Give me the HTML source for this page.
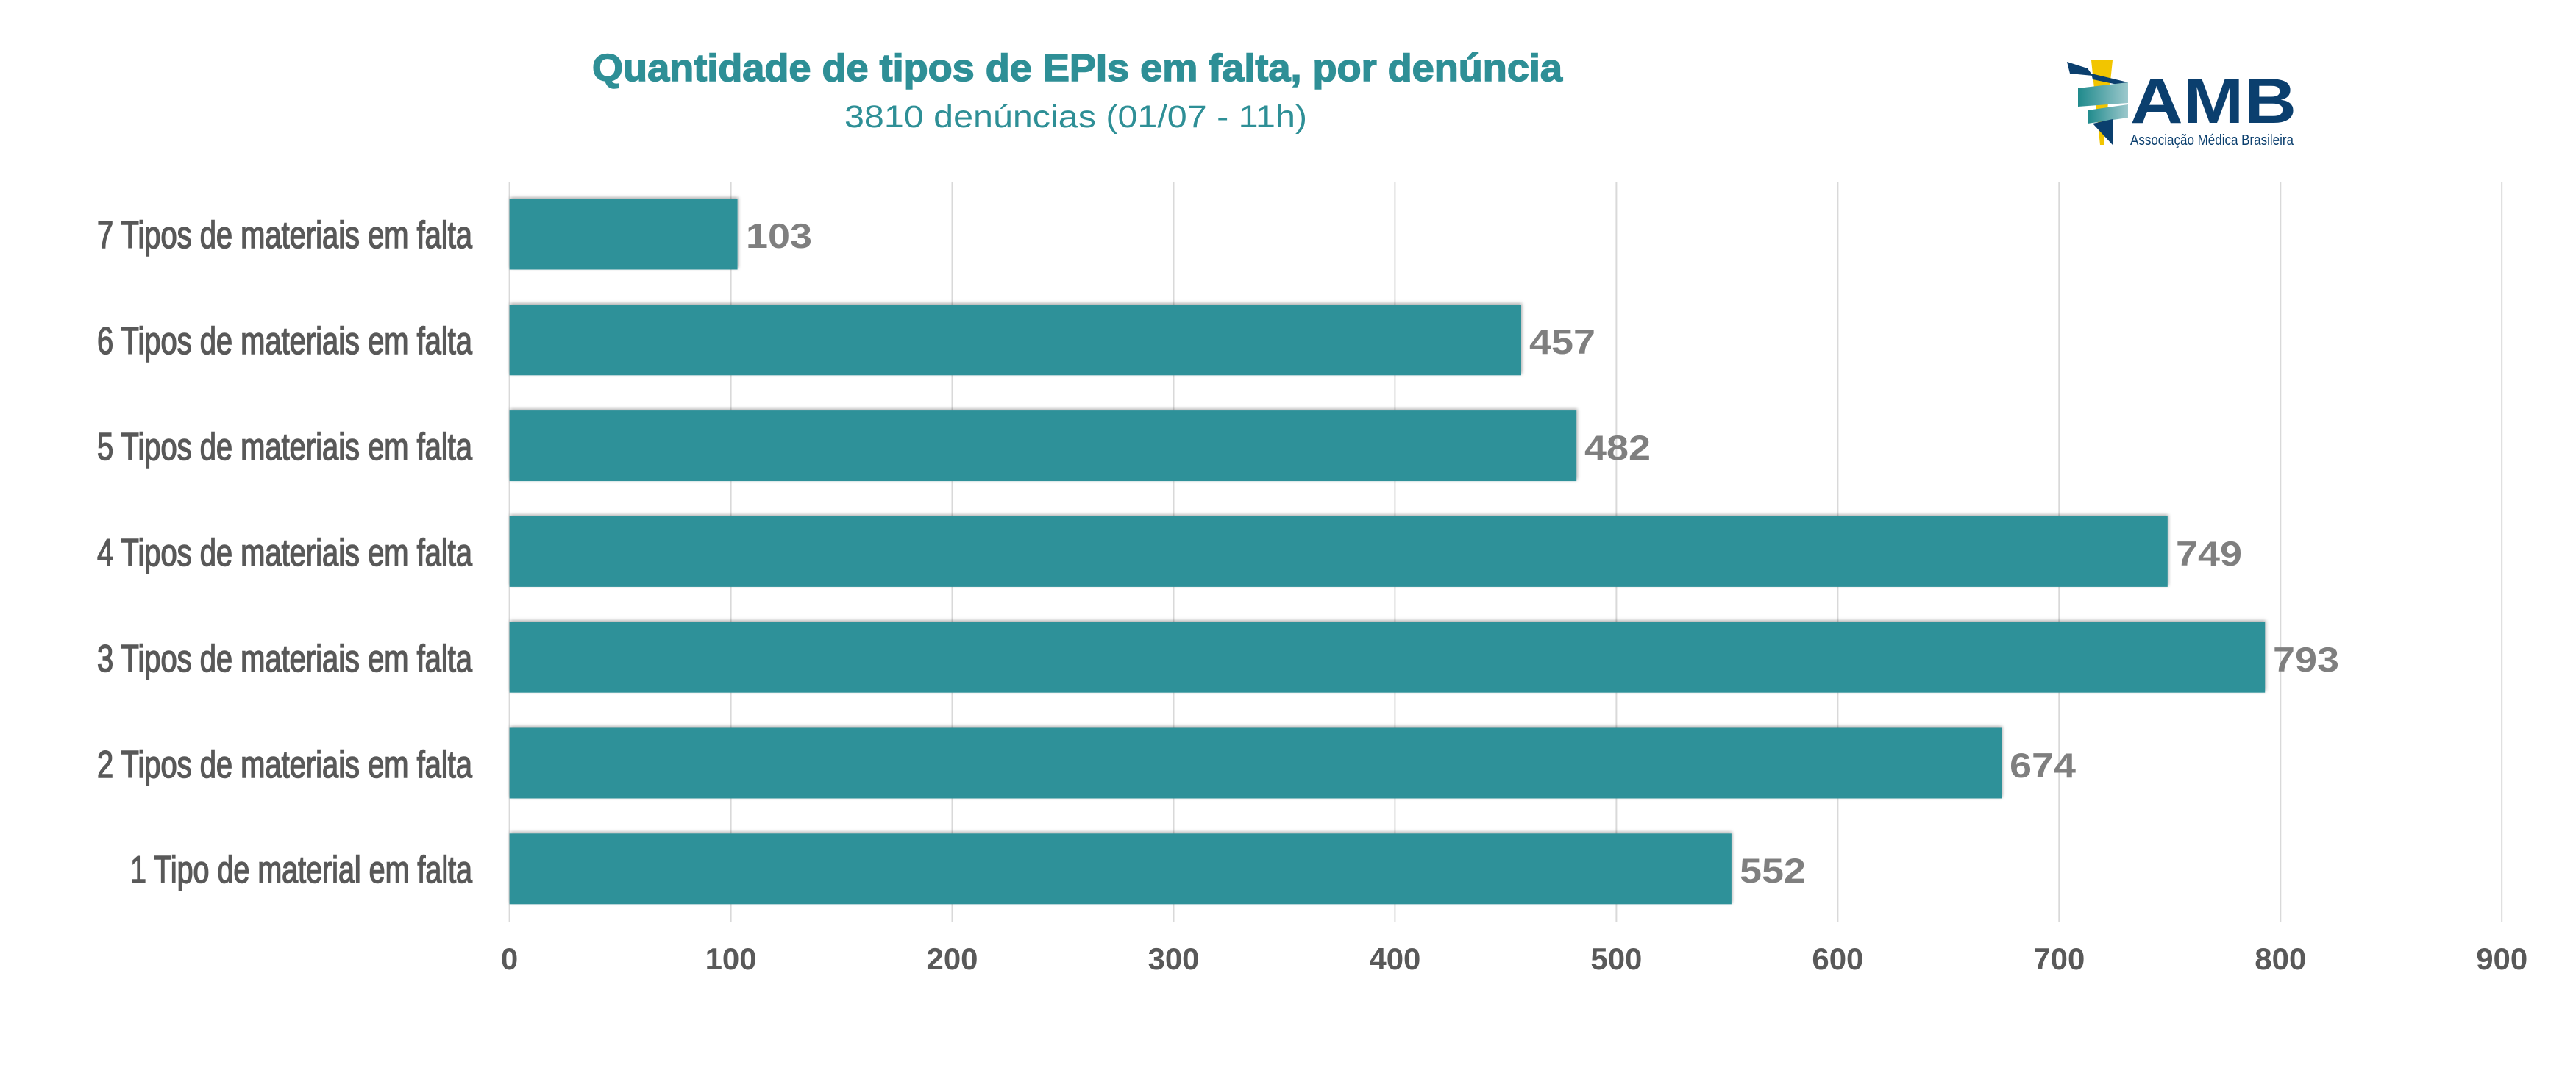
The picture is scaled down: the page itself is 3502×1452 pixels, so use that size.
<!DOCTYPE html>
<html><head><meta charset="utf-8"><style>
html,body{margin:0;padding:0;background:#fff;}
svg{display:block;}
</style></head><body>
<svg width="3502" height="1452" viewBox="0 0 3502 1452" xmlns="http://www.w3.org/2000/svg">
<defs>
<filter id="sh" x="-5%" y="-20%" width="110%" height="140%"><feDropShadow dx="1" dy="-2" stdDeviation="2.5" flood-color="#000" flood-opacity="0.35"/></filter>
<linearGradient id="rib" x1="0" x2="1"><stop offset="0" stop-color="#1f8a8c"/><stop offset="1" stop-color="#9cc8cc"/></linearGradient>
</defs>
<rect width="3502" height="1452" fill="#fff"/>
<text x="805" y="110" font-family="Liberation Sans, sans-serif" font-weight="bold" font-size="52" fill="#2e8f96" stroke="#2e8f96" stroke-width="1.5" textLength="1319" lengthAdjust="spacingAndGlyphs">Quantidade de tipos de EPIs em falta, por denúncia</text>
<text x="1148" y="173" font-family="Liberation Sans, sans-serif" font-size="43" fill="#2e8f96" textLength="629" lengthAdjust="spacingAndGlyphs">3810 denúncias (01/07 - 11h)</text>
<!-- logo -->
<g>
<polygon points="2843,82 2872,82 2860,197 2855,197" fill="#f2c500"/>
<polygon points="2810,84 2838,93 2845,103 2814,100" fill="#0b3f6e"/>
<polygon points="2843,100 2893,112 2893,118 2845,108" fill="#0b3f6e"/>
<polygon points="2825,120 2893,112 2893,140 2825,145" fill="url(#rib)"/>
<polygon points="2838,150 2893,142 2893,160 2838,168" fill="url(#rib)"/>
<polygon points="2845,168 2872,162 2872,197" fill="#0b3f6e"/>
<text x="2896" y="167" font-family="Liberation Sans, sans-serif" font-weight="bold" font-size="86" fill="#0b3f6e" textLength="226" lengthAdjust="spacingAndGlyphs">AMB</text>
<text x="2896" y="197" font-family="Liberation Sans, sans-serif" font-size="20" fill="#0b3f6e" textLength="222" lengthAdjust="spacingAndGlyphs">Associação Médica Brasileira</text>
</g>
<!-- gridlines -->
<g stroke="#d9d9d9" stroke-width="2">
<line x1="692.6" y1="248" x2="692.6" y2="1254"/>
<line x1="993.6" y1="248" x2="993.6" y2="1254"/>
<line x1="1294.5" y1="248" x2="1294.5" y2="1254"/>
<line x1="1595.5" y1="248" x2="1595.5" y2="1254"/>
<line x1="1896.4" y1="248" x2="1896.4" y2="1254"/>
<line x1="2197.4" y1="248" x2="2197.4" y2="1254"/>
<line x1="2498.4" y1="248" x2="2498.4" y2="1254"/>
<line x1="2799.3" y1="248" x2="2799.3" y2="1254"/>
<line x1="3100.3" y1="248" x2="3100.3" y2="1254"/>
<line x1="3401.2" y1="248" x2="3401.2" y2="1254"/>
</g>
<!-- bars -->
<g fill="#2f9199" filter="url(#sh)">
<rect x="692.6" y="270.5" width="310" height="96"/>
<rect x="692.6" y="414.3" width="1375.4" height="96"/>
<rect x="692.6" y="558.1" width="1450.6" height="96"/>
<rect x="692.6" y="701.9" width="2254.2" height="96"/>
<rect x="692.6" y="845.7" width="2386.6" height="96"/>
<rect x="692.6" y="989.5" width="2028.5" height="96"/>
<rect x="692.6" y="1133.3" width="1661.3" height="96"/>
</g>
<!-- value labels -->
<g font-family="Liberation Sans, sans-serif" font-weight="bold" font-size="47" fill="#7f7f7f">
<text x="1014" y="337" textLength="90" lengthAdjust="spacingAndGlyphs">103</text>
<text x="2079" y="481" textLength="90" lengthAdjust="spacingAndGlyphs">457</text>
<text x="2154" y="625" textLength="90" lengthAdjust="spacingAndGlyphs">482</text>
<text x="2958" y="769" textLength="90" lengthAdjust="spacingAndGlyphs">749</text>
<text x="3090" y="913" textLength="90" lengthAdjust="spacingAndGlyphs">793</text>
<text x="2732" y="1057" textLength="90" lengthAdjust="spacingAndGlyphs">674</text>
<text x="2365" y="1200" textLength="90" lengthAdjust="spacingAndGlyphs">552</text>
</g>
<!-- category labels -->
<g font-family="Liberation Sans, sans-serif" font-size="52" fill="#595959" stroke="#595959" stroke-width="1.6" text-anchor="end">
<text x="642" y="337" textLength="510" lengthAdjust="spacingAndGlyphs">7 Tipos de materiais em falta</text>
<text x="642" y="481" textLength="510" lengthAdjust="spacingAndGlyphs">6 Tipos de materiais em falta</text>
<text x="642" y="625" textLength="510" lengthAdjust="spacingAndGlyphs">5 Tipos de materiais em falta</text>
<text x="642" y="769" textLength="510" lengthAdjust="spacingAndGlyphs">4 Tipos de materiais em falta</text>
<text x="642" y="913" textLength="510" lengthAdjust="spacingAndGlyphs">3 Tipos de materiais em falta</text>
<text x="642" y="1057" textLength="510" lengthAdjust="spacingAndGlyphs">2 Tipos de materiais em falta</text>
<text x="642" y="1200" textLength="465" lengthAdjust="spacingAndGlyphs">1 Tipo de material em falta</text>
</g>
<!-- ticks -->
<g font-family="Liberation Sans, sans-serif" font-weight="bold" font-size="42" fill="#595959" text-anchor="middle">
<text x="692.6" y="1318">0</text>
<text x="993.6" y="1318" textLength="70" lengthAdjust="spacingAndGlyphs">100</text>
<text x="1294.5" y="1318" textLength="70" lengthAdjust="spacingAndGlyphs">200</text>
<text x="1595.5" y="1318" textLength="70" lengthAdjust="spacingAndGlyphs">300</text>
<text x="1896.4" y="1318" textLength="70" lengthAdjust="spacingAndGlyphs">400</text>
<text x="2197.4" y="1318" textLength="70" lengthAdjust="spacingAndGlyphs">500</text>
<text x="2498.4" y="1318" textLength="70" lengthAdjust="spacingAndGlyphs">600</text>
<text x="2799.3" y="1318" textLength="70" lengthAdjust="spacingAndGlyphs">700</text>
<text x="3100.3" y="1318" textLength="70" lengthAdjust="spacingAndGlyphs">800</text>
<text x="3401.2" y="1318" textLength="70" lengthAdjust="spacingAndGlyphs">900</text>
</g>
</svg>
</body></html>
